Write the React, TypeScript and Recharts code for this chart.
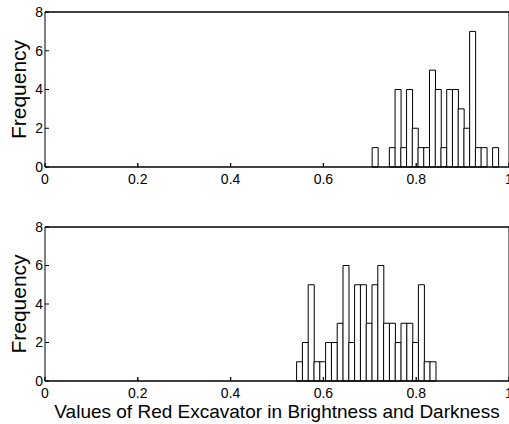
import React from 'react';
import { BarChart, Bar, XAxis, YAxis, Label } from 'recharts';

// bin centres and counts
const topBins = [
  0.7112, 0.7236, 0.7359, 0.7483, 0.7606, 0.7730, 0.7854, 0.7977, 0.8101, 0.8224, 0.8348,
  0.8472, 0.8595, 0.8719, 0.8842, 0.8966, 0.9090, 0.9213, 0.9337, 0.9460, 0.9584, 0.9708,
];
const topCounts = [1, 0, 0, 1, 4, 1, 4, 2, 1, 1, 5, 4, 1, 4, 4, 3, 2, 7, 1, 1, 0, 1];

const bottomBins = [
  0.5485, 0.5610, 0.5735, 0.5860, 0.5985, 0.6110, 0.6235, 0.6360, 0.6485, 0.6610, 0.6735, 0.6860,
  0.6985, 0.7110, 0.7235, 0.7360, 0.7485, 0.7610, 0.7735, 0.7860, 0.7985, 0.8110, 0.8235, 0.8360,
];
const bottomCounts = [1, 2, 5, 1, 1, 2, 2, 3, 6, 2, 5, 5, 3, 5, 6, 3, 3, 2, 3, 3, 2, 5, 1, 1];

const xTicks = [0, 0.2, 0.4, 0.6, 0.8, 1];
const yTicks = [0, 2, 4, 6, 8];

const font = '"Liberation Sans", Arial, sans-serif';
const tickStyle = { fill: '#000', fontSize: 14, fontFamily: font };

type HistProps = {
  bins: number[];
  counts: number[];
  height: number;
  xAxisHeight: number;
  bottom: number;
  xLabel?: string;
};

const Histogram: React.FC<HistProps> = ({ bins, counts, height, xAxisHeight, bottom, xLabel }) => {
  const data = bins.map((x, i) => ({ x, count: counts[i] }));
  return (
    <BarChart
      width={512}
      height={height}
      data={data}
      margin={{ top: 11, right: 2, left: 0, bottom }}
      barCategoryGap={0}
      barGap={0}
    >
      <XAxis
        dataKey="x"
        type="number"
        domain={[0, 1]}
        ticks={xTicks}
        interval={0}
        height={xAxisHeight}
        stroke="#000"
        strokeWidth={1.3}
        tickSize={-4}
        tickMargin={11}
        tick={tickStyle}
      >
        {xLabel && (
          <Label
            value={xLabel}
            position="insideBottom"
            offset={6}
            style={{ fill: '#000', fontSize: 19, fontFamily: font }}
          />
        )}
      </XAxis>
      {/* top and right edges of the box */}
      <XAxis
        xAxisId="top"
        orientation="top"
        type="number"
        domain={[0, 1]}
        height={1}
        stroke="#000"
        strokeWidth={1.3}
        tickLine={false}
        tick={false}
      />
      <YAxis
        type="number"
        domain={[0, 8]}
        ticks={yTicks}
        interval={0}
        width={45}
        stroke="#000"
        tickSize={-4}
        tickMargin={6}
        tick={tickStyle}
      >
        <Label
          value="Frequency"
          angle={-90}
          position="center"
          dx={-4}
          style={{ fill: '#000', fontSize: 21, fontFamily: font, textAnchor: 'middle' }}
        />
      </YAxis>
      <YAxis
        yAxisId="right"
        orientation="right"
        type="number"
        domain={[0, 8]}
        width={1}
        stroke="#000"
        tickLine={false}
        tick={false}
      />
      <Bar dataKey="count" fill="#fff" stroke="#000" strokeWidth={1} isAnimationActive={false} />
    </BarChart>
  );
};

export default function App() {
  return (
    <div
      style={{
        position: 'absolute',
        left: 0,
        top: 0,
        width: 509,
        height: 424,
        overflow: 'hidden',
        background: '#fff',
      }}
    >
      <div style={{ position: 'absolute', left: 0, top: 0 }}>
        <Histogram bins={topBins} counts={topCounts} height={195} xAxisHeight={20} bottom={8} />
      </div>
      <div style={{ position: 'absolute', left: 0, top: 215 }}>
        <Histogram
          bins={bottomBins}
          counts={bottomCounts}
          height={209}
          xAxisHeight={43}
          bottom={0}
          xLabel="Values of Red Excavator in Brightness and Darkness"
        />
      </div>
    </div>
  );
}
